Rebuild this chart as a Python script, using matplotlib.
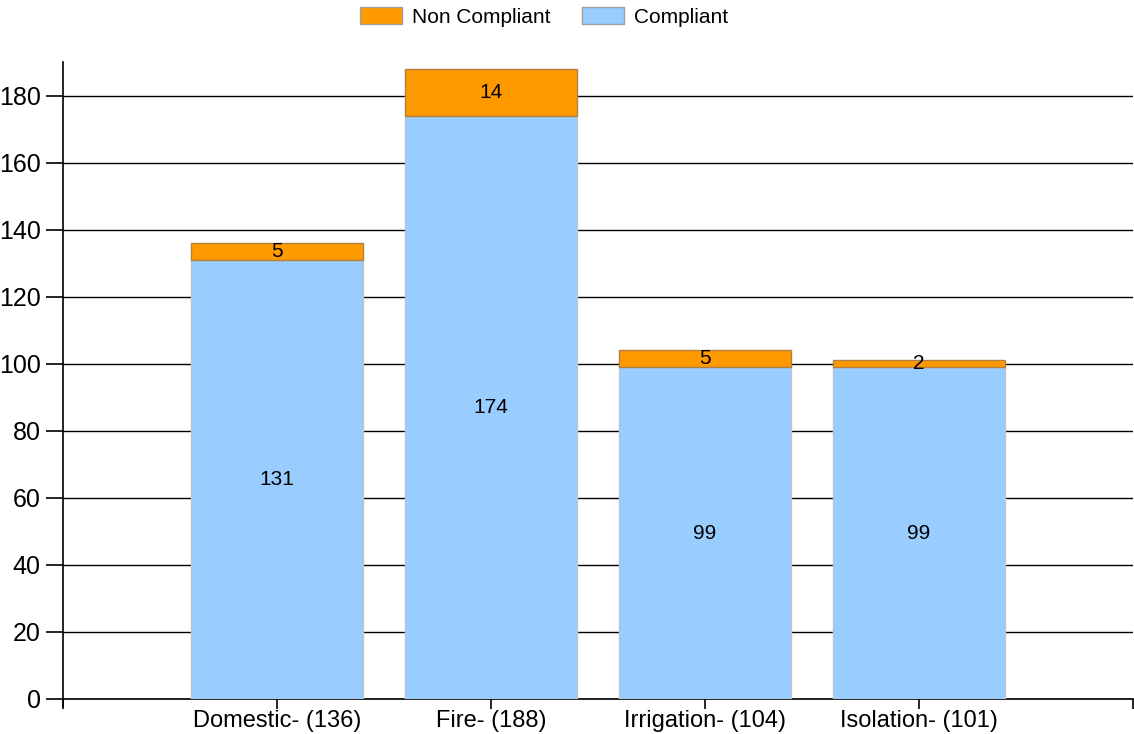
import matplotlib
matplotlib.use("Agg")
import matplotlib.pyplot as plt
from matplotlib.patches import Patch
import numpy as np

categories = ["Domestic- (136)", "Fire- (188)", "Irrigation- (104)", "Isolation- (101)"]
compliant = [131, 174, 99, 99]
non_compliant = [5, 14, 5, 2]

C_COMP = "#99ccff"
C_NON = "#ff9900"

plt.rcParams["font.family"] = ["Liberation Sans", "DejaVu Sans"]

fig = plt.figure(figsize=(11.34, 7.34), dpi=100)
ax = fig.add_axes([63 / 1134, 1 - 699 / 734, (1133 - 63) / 1134, (699 - 62) / 734])

x = np.arange(len(categories))
ax.bar(x, compliant, width=0.8, color=C_COMP, edgecolor="#b8c4d0", lw=1.0, zorder=3)
ax.bar(x, non_compliant, bottom=compliant, width=0.8, color=C_NON,
       edgecolor="#b08040", lw=1.0, zorder=3)

for xi, c, n in zip(x, compliant, non_compliant):
    ax.text(xi, c / 2, str(c), ha="center", va="center", fontsize=15, zorder=4)
    ax.text(xi, c + n / 2, str(n), ha="center", va="center", fontsize=15, zorder=4)

ax.set_xlim(-1, 4)
ax.set_ylim(0, 190)
ax.set_yticks(np.arange(0, 181, 20))
ax.set_xticks(list(x) + [-1, 4])
ax.set_xticklabels(categories + ["", ""])
ax.tick_params(axis="y", labelsize=18, length=12, width=1.2, color="black", pad=4)
ax.tick_params(axis="x", labelsize=17, length=7, width=1.2, color="black", pad=1)
ax.yaxis.grid(True, color="black", lw=1.0, zorder=1)
ax.set_axisbelow(True)
for s in ("top", "right"):
    ax.spines[s].set_visible(False)
ax.spines["left"].set_linewidth(1.2)
ax.spines["bottom"].set_linewidth(1.2)
ax.spines["left"].set_bounds(-2, 190)

handles = [Patch(facecolor=C_NON, edgecolor="#a0a0a0", label="Non Compliant"),
           Patch(facecolor=C_COMP, edgecolor="#a0a0a0", label="Compliant")]
fig.legend(handles=handles, loc="center", bbox_to_anchor=(0.48, 1 - 17 / 734),
           ncol=2, frameon=False, fontsize=15, handlelength=2.0,
           handleheight=0.87, handletextpad=0.5, columnspacing=1.5)

fig.savefig("out.png", dpi=100)
